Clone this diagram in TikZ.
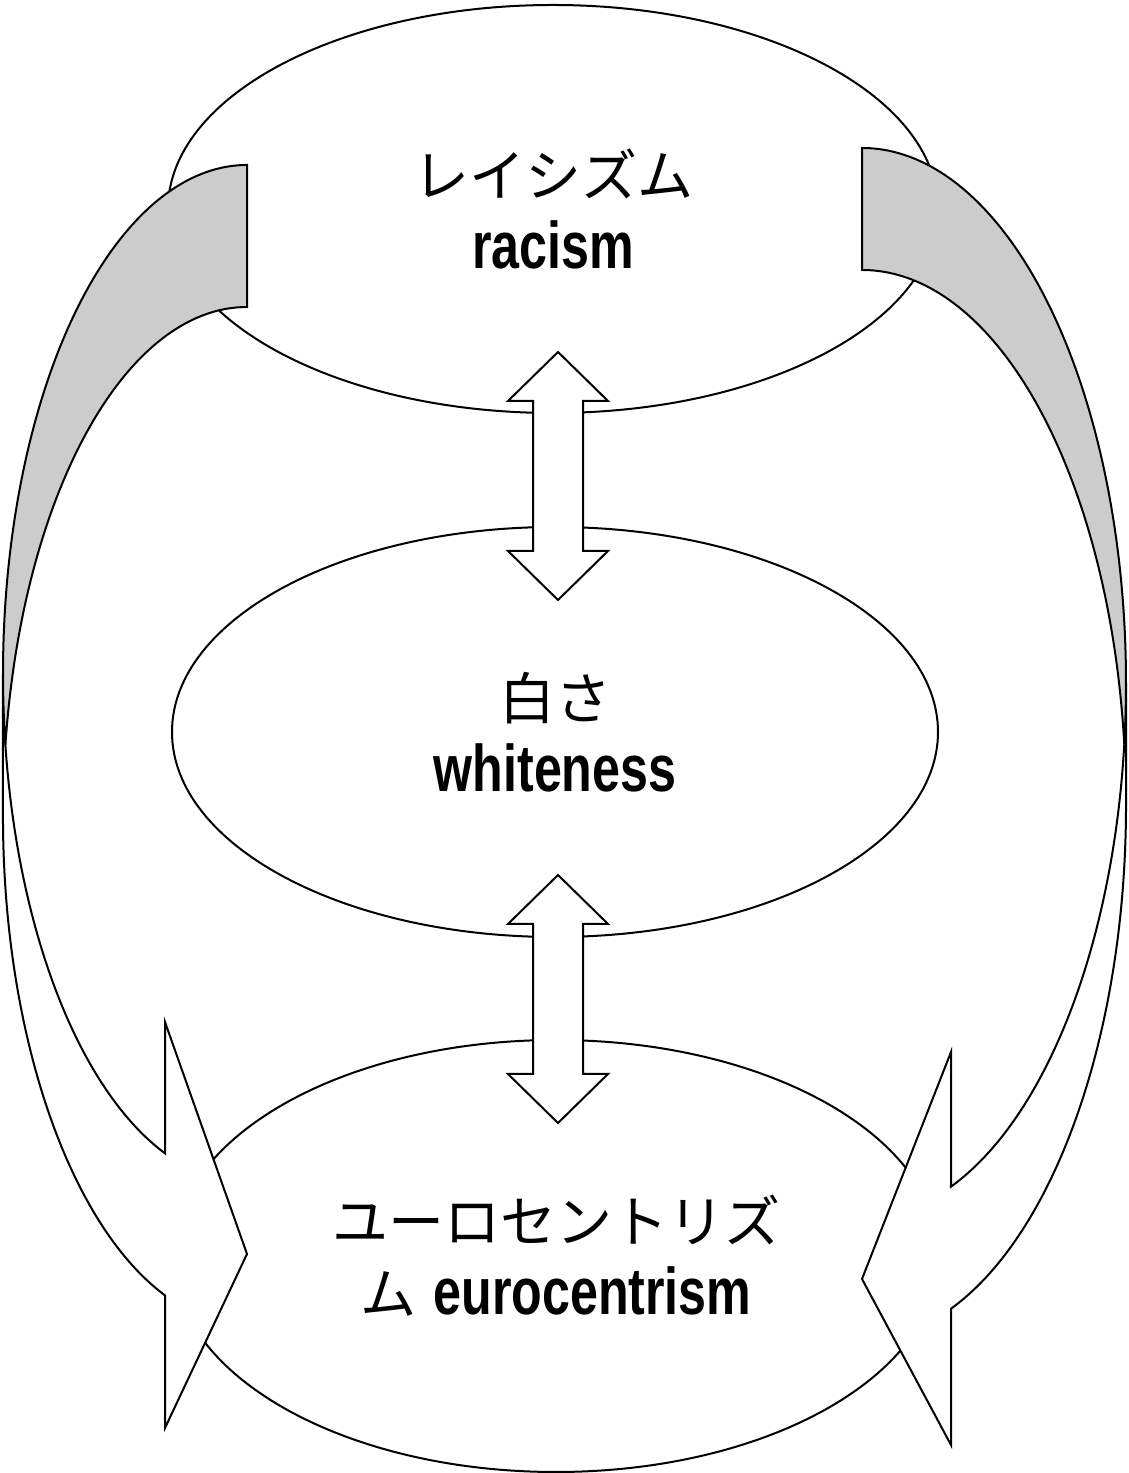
\documentclass[tikz,border=0pt]{standalone}
\usepackage{fontspec}
\newfontfamily\jpfont{Noto Sans CJK JP}
\newfontfamily\enfont[FakeStretch=0.76]{Liberation Sans}
\newcommand\jptext[1]{{\jpfont #1}}
\newcommand\entext[1]{{\enfont\bfseries\fontsize{33}{36}\selectfont #1}}
\usetikzlibrary{shapes.geometric}

\begin{document}
\begin{tikzpicture}[
  x=0.5pt, y=0.5pt,
  line width=1pt,
  oval/.style={draw, ellipse, fill=white, inner sep=0pt, align=center,
    font=\fontsize{28}{36}\selectfont},
  block/.style={draw, fill=white, line join=miter},
  band/.style={draw, fill=white},
  bandback/.style={draw, fill=black!20},
]
  \useasboundingbox (0,0) rectangle (1129,1473);

  % the three ellipses
  \node[oval, minimum width=385pt, minimum height=204pt] (racism) at (553,1264)
    {\jptext{レイシズム}\\\entext{racism}};
  \node[oval, minimum width=383pt, minimum height=205pt] (whiteness) at (555,741)
    {\jptext{白さ}\\\entext{whiteness}};
  \node[oval, minimum width=383pt, minimum height=216pt] (eurocentrism) at (556,217)
    {\jptext{ユーロセントリズ}\\\jptext{ム} \entext{eurocentrism}};

  % double arrows between them
  \coordinate (upper) at (558,997);
  \coordinate (lower) at (558,474);
  \draw[block] (upper) ++(0,124) -- ++(50,-49) -- ++(-25,0) -- ++(0,-150) -- ++(25,0)
    -- ++(-50,-49) -- ++(-50,49) -- ++(25,0) -- ++(0,150) -- ++(-25,0) -- cycle;
  \draw[block] (lower) ++(0,124) -- ++(50,-49) -- ++(-25,0) -- ++(0,-150) -- ++(25,0)
    -- ++(-50,-49) -- ++(-50,49) -- ++(25,0) -- ++(0,150) -- ++(-25,0) -- cycle;

  % left curved arrow
  \draw[band] (3,799) arc[start angle=180, end angle=250.37, x radius=244, y radius=509]
    -- (165,451) -- (247,219) -- (165,45) -- (165,177.6)
    arc[start angle=250.37, end angle=180, x radius=244, y radius=509] -- cycle;
  \draw[bandback] (247,1166) arc[start angle=90, end angle=171.98, x radius=244, y radius=509]
    arc[start angle=188.02, end angle=90, x radius=244, y radius=509] -- cycle;

  % right curved arrow
  \draw[band] (1126,790) arc[start angle=0, end angle=-70.3, x radius=264, y radius=535]
    -- (951,421) -- (862,194) -- (951,28) -- (951,164.3)
    arc[start angle=-70.3, end angle=0, x radius=264, y radius=535] -- cycle;
  \draw[bandback] (862,1203) arc[start angle=90, end angle=6.55, x radius=264, y radius=535]
    arc[start angle=-6.55, end angle=90, x radius=264, y radius=535] -- cycle;
\end{tikzpicture}
\end{document}
